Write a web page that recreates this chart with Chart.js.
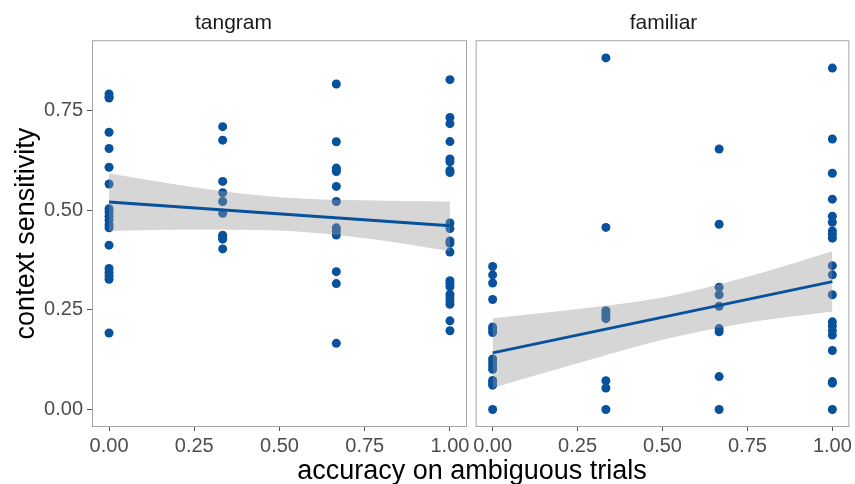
<!DOCTYPE html>
<html>
<head>
<meta charset="utf-8">
<script src="https://cdn.jsdelivr.net/npm/chart.js"></script>
<style>
  body { margin: 0; background: #fff; }
  #wrap { position: relative; width: 855px; height: 484px; overflow: hidden; font-family: "Liberation Sans", Arial, sans-serif; }
  #left { position: absolute; left: 0; top: 0; }
  #right { position: absolute; left: 470px; top: 0; }
  #xtitle { position: absolute; left: 272px; width: 400px; top: 457px; text-align: center; font-size: 27px; line-height: 27px; color: #000; }
</style>
</head>
<body>
<div id="wrap">
  <canvas id="left" width="480" height="484"></canvas>
  <canvas id="right" width="385" height="484"></canvas>
  <div id="xtitle">accuracy on ambiguous trials</div>
</div>
<script>
// accuracy levels on the x axis (0, 1/3, 2/3, 1)
const accuracyLevels = [0, 1 / 3, 2 / 3, 1];

// context sensitivity per accuracy level
const tangramSens = [
  [0.792, 0.785, 0.782, 0.696, 0.655, 0.608, 0.566, 0.504, 0.496, 0.485, 0.475, 0.464, 0.456, 0.4125, 0.354, 0.344, 0.335, 0.327, 0.192],
  [0.71, 0.676, 0.5725, 0.544, 0.522, 0.4925, 0.4375, 0.432, 0.4275, 0.403],
  [0.817, 0.672, 0.606, 0.602, 0.5975, 0.56, 0.522, 0.456, 0.448, 0.438, 0.346, 0.316, 0.166],
  [0.828, 0.733, 0.7175, 0.6725, 0.629, 0.622, 0.60, 0.595, 0.468, 0.454, 0.423, 0.417, 0.395, 0.323, 0.317, 0.308, 0.289, 0.281, 0.272, 0.264, 0.2225, 0.1975]
];
const familiarSens = [
  [0.359, 0.338, 0.3175, 0.276, 0.207, 0.2, 0.193, 0.127, 0.119, 0.11, 0.101, 0.073, 0.067, 0.061, 0.0],
  [0.8825, 0.457, 0.248, 0.242, 0.235, 0.228, 0.072, 0.054, 0.0],
  [0.654, 0.465, 0.307, 0.288, 0.259, 0.203, 0.195, 0.0825, 0.0],
  [0.857, 0.679, 0.593, 0.528, 0.485, 0.47, 0.448, 0.44, 0.43, 0.361, 0.338, 0.288, 0.22, 0.21, 0.198, 0.187, 0.148, 0.07, 0.066, 0.0]
];

// linear fit and its confidence band
const fitX = [0, 1];
const tangramFit = [0.521, 0.461];
const familiarFit = [0.142, 0.321];
const bandX = [0, 0.25, 0.5, 0.75, 1];
const tangramUpper = [0.5925, 0.558, 0.533, 0.525, 0.522];
const tangramLower = [0.448, 0.452, 0.449, 0.43, 0.398];
const familiarUpper = [0.229, 0.252, 0.281, 0.333, 0.3975];
const familiarLower = [0.054, 0.116, 0.175, 0.218, 0.246];

const xTicks = [0, 0.25, 0.5, 0.75, 1];
const yTicks = [0, 0.25, 0.5, 0.75];

const BLUE = '#08519c';
const TICK_FONT = { family: 'Liberation Sans', size: 20 };

// draws the grey frame round each panel
const panelBorder = {
  id: 'panelBorder',
  afterDraw(chart) {
    const a = chart.chartArea;
    const ctx = chart.ctx;
    ctx.save();
    ctx.strokeStyle = '#a6a6a6';
    ctx.lineWidth = 1;
    ctx.strokeRect(a.left + 0.5, a.top + 0.5, a.right - a.left - 1, a.bottom - a.top - 1);
    ctx.restore();
  }
};

function toPoints(sens) {
  const pts = [];
  sens.forEach((vals, i) => {
    vals.forEach(v => pts.push({ x: accuracyLevels[i], y: v }));
  });
  return pts;
}

function makeChart(id, title, sens, fit, upper, lower, showY, padding) {
  const ctx = document.getElementById(id).getContext('2d');
  return new Chart(ctx, {
    type: 'scatter',
    data: {
      datasets: [
        {
          type: 'scatter',
          data: toPoints(sens),
          backgroundColor: BLUE,
          borderWidth: 0,
          pointRadius: 4.5,
          order: 3
        },
        {
          type: 'line',
          data: bandX.map((x, i) => ({ x: x, y: lower[i] })),
          borderWidth: 0,
          borderColor: 'rgba(0,0,0,0)',
          pointRadius: 0,
          fill: false,
          cubicInterpolationMode: 'monotone',
          order: 2
        },
        {
          type: 'line',
          data: bandX.map((x, i) => ({ x: x, y: upper[i] })),
          borderWidth: 0,
          borderColor: 'rgba(0,0,0,0)',
          backgroundColor: 'rgba(153,153,153,0.4)',
          pointRadius: 0,
          fill: '-1',
          cubicInterpolationMode: 'monotone',
          order: 2
        },
        {
          type: 'line',
          data: fitX.map((x, i) => ({ x: x, y: fit[i] })),
          borderColor: BLUE,
          borderWidth: 3,
          pointRadius: 0,
          fill: false,
          order: 1
        }
      ]
    },
    options: {
      responsive: false,
      animation: false,
      events: [],
      layout: { padding: padding },
      plugins: {
        legend: { display: false },
        tooltip: { enabled: false },
        title: {
          display: true,
          text: title,
          color: '#1a1a1a',
          font: { family: 'Liberation Sans', size: 21, weight: 'normal' },
          padding: { top: 11, bottom: 4 }
        }
      },
      scales: {
        x: {
          type: 'linear',
          min: -0.05,
          max: 1.05,
          afterBuildTicks: s => { s.ticks = xTicks.map(v => ({ value: v })); },
          afterFit: s => { s.height = 57; },
          border: { display: false },
          grid: { drawOnChartArea: false, drawTicks: true, tickLength: 4, tickColor: '#555' },
          ticks: {
            color: '#4d4d4d',
            font: TICK_FONT,
            padding: 3,
            maxRotation: 0,
            autoSkip: false,
            callback: v => Number(v).toFixed(2)
          }
        },
        y: {
          type: 'linear',
          display: showY,
          min: -0.044,
          max: 0.927,
          afterBuildTicks: s => { s.ticks = yTicks.map(v => ({ value: v })); },
          afterFit: s => { s.width = showY ? 92 : 0; },
          border: { display: false },
          grid: { drawOnChartArea: false, drawTicks: true, tickLength: 5, tickColor: '#555' },
          title: {
            display: showY,
            text: 'context sensitivity',
            color: '#000',
            font: { family: 'Liberation Sans', size: 27 },
            padding: { top: 10, bottom: 0 }
          },
          ticks: {
            color: '#4d4d4d',
            font: TICK_FONT,
            padding: 4,
            callback: v => Number(v).toFixed(2)
          }
        }
      }
    },
    plugins: [panelBorder]
  });
}

makeChart('left', 'tangram', tangramSens, tangramFit, tangramUpper, tangramLower, true,
  { left: 0, right: 13, top: 0, bottom: 0 });
makeChart('right', 'familiar', familiarSens, familiarFit, familiarUpper, familiarLower, false,
  { left: 5, right: 3, top: 0, bottom: 0 });
</script>
</body>
</html>
